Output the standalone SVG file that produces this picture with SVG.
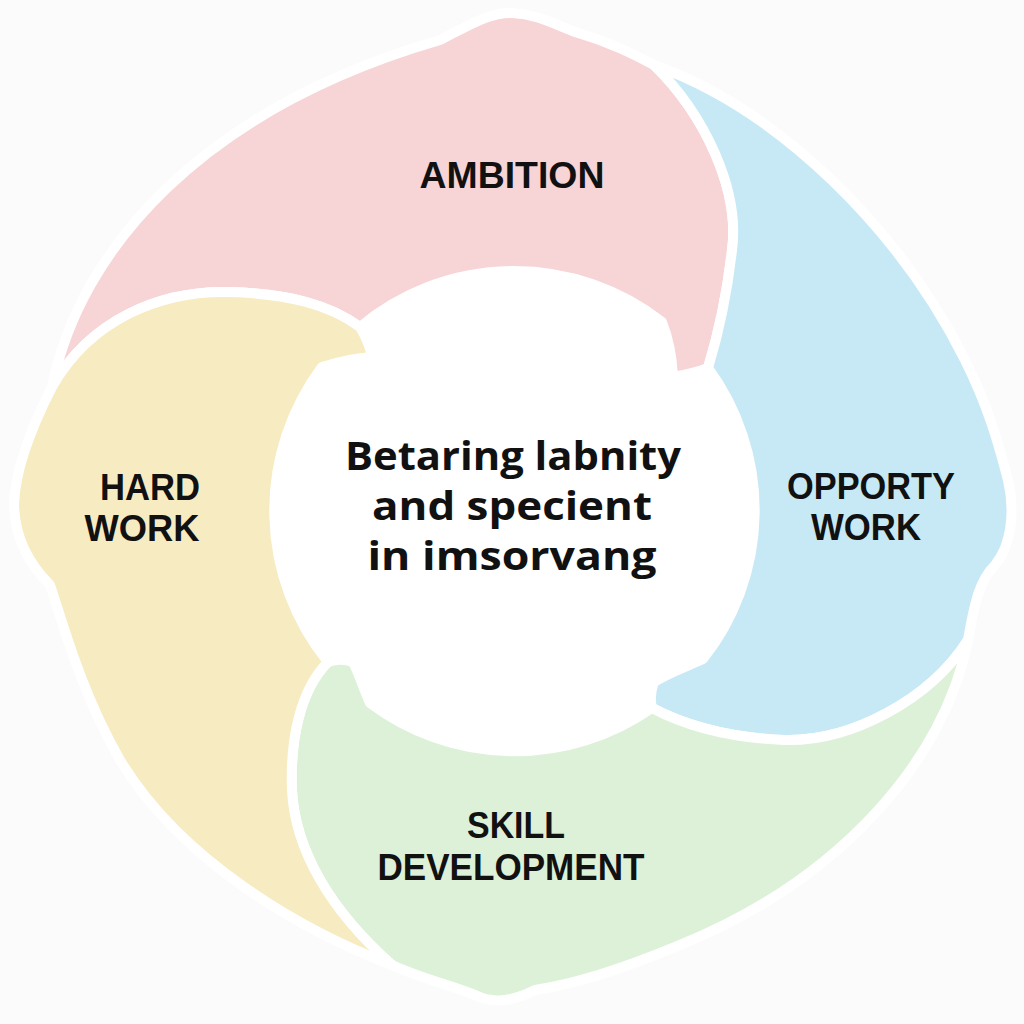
<svg xmlns="http://www.w3.org/2000/svg" width="1024" height="1024" viewBox="0 0 1024 1024">
<style>
.seg{stroke:#ffffff;stroke-width:10;stroke-linejoin:round}
.lbl{font-family:"Liberation Sans",Arial,sans-serif;font-weight:700;font-size:36px;fill:#111;text-anchor:middle}
.ctr{font-family:"Open Sans","Noto Sans",sans-serif;font-weight:700;font-size:40px;fill:#111;text-anchor:middle}
</style>
<rect width="1024" height="1024" fill="#fbfbfb"/>
<circle cx="514" cy="511" r="240" fill="#ffffff"/>
<g id="ambition">
<path class="seg" fill="#f7d4d6" d="M52,387 C80,250 200,110 440,40 C470,25 490,12 512,13 C535,14 550,22 575,32 C610,42 635,55 654,65 C705,115 740,190 732,250 C727,295 718,335 708,368 C698,372 685,375 673,377 C672,355 668,337 662,322 A240,240 0 0 0 360,327 C330,305 290,294 230,292 C160,290 90,320 52,387 Z"/>
<text class="lbl" x="512" y="188" textLength="185" lengthAdjust="spacingAndGlyphs">AMBITION</text>
</g>
<g id="opportunity">
<path class="seg" fill="#c7e9f5" d="M654,65 C780,110 900,230 965,360 C990,410 1000,450 1008,480 C1015,510 1012,545 995,565 C980,580 975,600 968,640 C930,700 850,742 784,740 C735,738 690,728 652,708 C650,700 651,690 654,682 C670,672 688,666 703,659 A240,240 0 0 0 708,368 C718,335 727,295 732,250 C740,190 705,115 654,65 Z"/>
<text class="lbl" x="871" y="499" textLength="168" lengthAdjust="spacingAndGlyphs">OPPORTY</text>
<text class="lbl" x="866" y="540" textLength="110" lengthAdjust="spacingAndGlyphs">WORK</text>
</g>
<g id="skill">
<path class="seg" fill="#dcf1d8" d="M968,640 C945,760 840,880 680,945 C620,970 570,985 535,990 C515,1000 495,1005 475,995 C450,985 420,978 392,965 C330,910 295,850 292,790 C290,740 300,690 328,662 C336,659 345,659 353,662 C360,676 364,690 370,703 A240,240 0 0 0 652,708 C690,728 735,738 784,740 C850,742 930,700 968,640 Z"/>
<text class="lbl" x="516" y="838" textLength="98" lengthAdjust="spacingAndGlyphs">SKILL</text>
<text class="lbl" x="511" y="880" textLength="267" lengthAdjust="spacingAndGlyphs">DEVELOPMENT</text>
</g>
<g id="hardwork">
<path class="seg" fill="#f7ebc1" d="M52,387 C90,320 160,290 230,292 C290,294 330,305 360,327 C366,337 370,347 372,357 C355,358 338,362 322,367 A240,240 0 0 0 328,662 C300,690 290,740 292,790 C295,850 330,910 392,965 C300,930 180,860 120,760 C80,690 62,620 50,585 C35,570 15,545 14,505 C15,470 30,430 52,387 Z"/>
<text class="lbl" x="150" y="500" textLength="100" lengthAdjust="spacingAndGlyphs">HARD</text>
<text class="lbl" x="142" y="541" textLength="115" lengthAdjust="spacingAndGlyphs">WORK</text>
</g>
<g id="center">
<text class="ctr" x="513" y="470" textLength="336" lengthAdjust="spacingAndGlyphs">Betaring labnity</text>
<text class="ctr" x="512" y="520" textLength="280" lengthAdjust="spacingAndGlyphs">and specient</text>
<text class="ctr" x="512" y="570" textLength="289" lengthAdjust="spacingAndGlyphs">in imsorvang</text>
</g>
</svg>
